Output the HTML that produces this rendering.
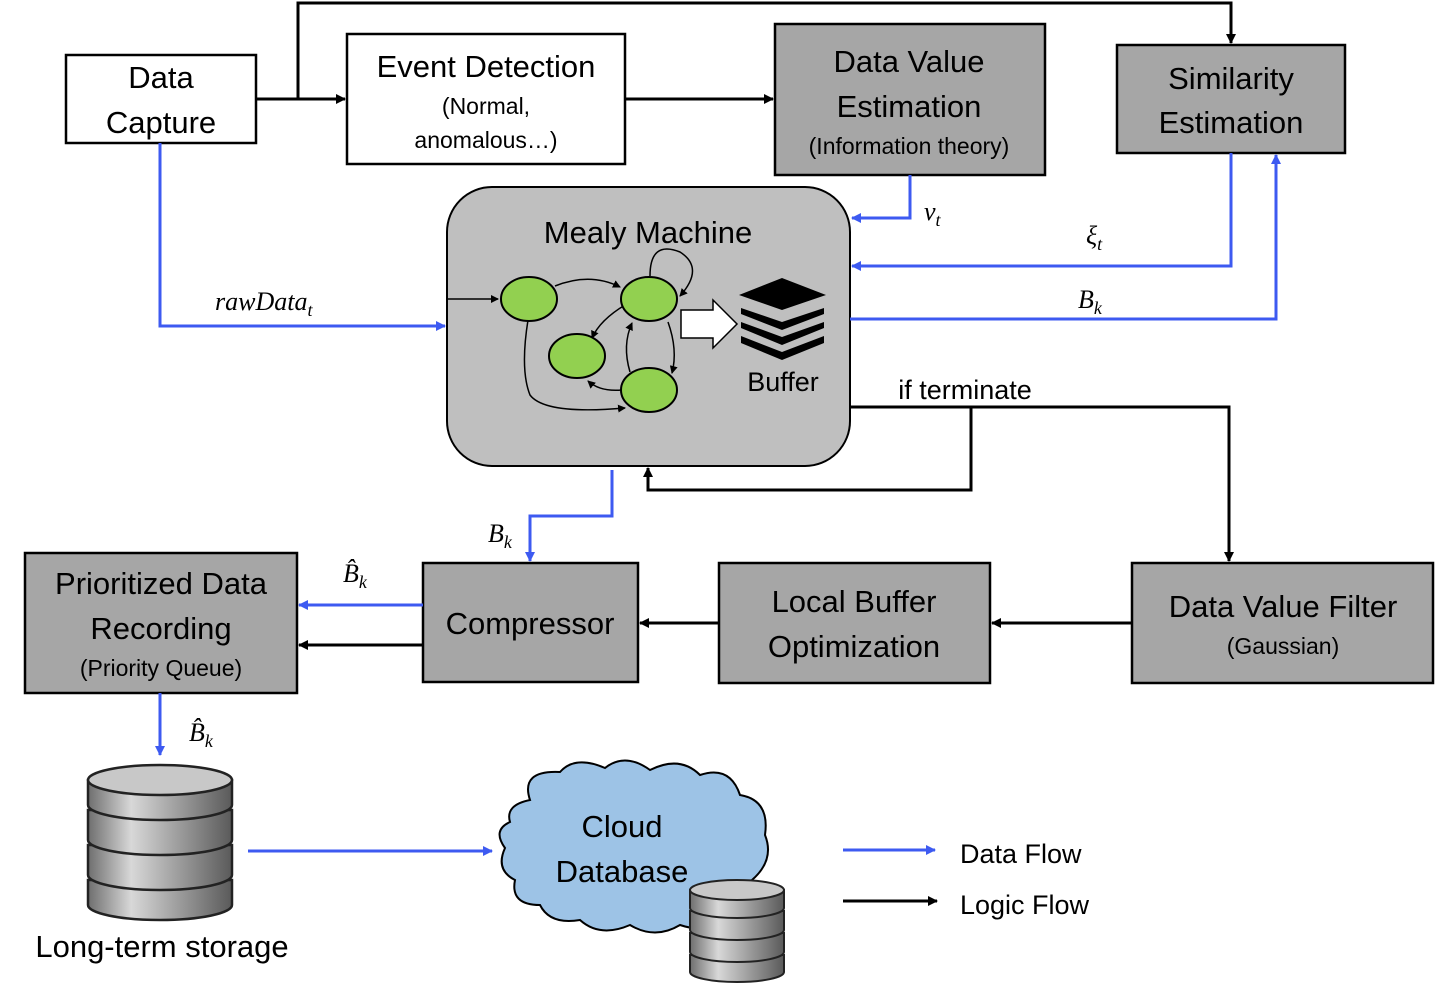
<!DOCTYPE html>
<html><head><meta charset="utf-8"><style>
html,body{margin:0;padding:0;background:#fff;}
svg{display:block;}
text{font-family:"Liberation Sans",sans-serif;}
</style></head><body>
<svg width="1435" height="999" viewBox="0 0 1435 999" xmlns="http://www.w3.org/2000/svg">
<defs>
<marker id="ak" markerWidth="10" markerHeight="10" refX="9" refY="5" orient="auto" markerUnits="userSpaceOnUse"><path d="M0,0 L10,5 L0,10 z" fill="#000"/></marker>
<marker id="ab" markerWidth="10" markerHeight="10" refX="9" refY="5" orient="auto" markerUnits="userSpaceOnUse"><path d="M0,0 L10,5 L0,10 z" fill="#3d5af1"/></marker>
<marker id="as" markerWidth="8" markerHeight="8" refX="7" refY="4" orient="auto" markerUnits="userSpaceOnUse"><path d="M0,0 L8,4 L0,8 z" fill="#000"/></marker>
<linearGradient id="cyl" x1="0" x2="1"><stop offset="0" stop-color="#6e6e6e"/><stop offset="0.3" stop-color="#d8d8d8"/><stop offset="1" stop-color="#5a5a5a"/></linearGradient>
</defs>
<g stroke="#000" stroke-width="2.5">
<rect x="66" y="55" width="190" height="88" fill="#fff"/>
<rect x="347" y="34" width="278" height="130" fill="#fff"/>
<rect x="775" y="24" width="270" height="151" fill="#a6a6a6"/>
<rect x="1117" y="45" width="228" height="108" fill="#a6a6a6"/>
<rect x="447" y="187" width="403" height="279" rx="45" fill="#bfbfbf" stroke-width="2"/>
<rect x="25" y="553" width="272" height="140" fill="#a6a6a6"/>
<rect x="423" y="563" width="215" height="119" fill="#a6a6a6"/>
<rect x="719" y="563" width="271" height="120" fill="#a6a6a6"/>
<rect x="1132" y="563" width="301" height="120" fill="#a6a6a6"/>
</g>
<g font-size="31" text-anchor="middle" fill="#000">
<text x="161" y="88">Data</text><text x="161" y="133">Capture</text>
<text x="486" y="77">Event Detection</text>
<text x="486" y="114" font-size="23">(Normal,</text><text x="486" y="148" font-size="23">anomalous…)</text>
<text x="909" y="72">Data Value</text><text x="909" y="117">Estimation</text>
<text x="909" y="154" font-size="23">(Information theory)</text>
<text x="1231" y="89">Similarity</text><text x="1231" y="133">Estimation</text>
<text x="648" y="243">Mealy Machine</text>
<text x="783" y="391" font-size="27">Buffer</text>
<text x="161" y="594">Prioritized Data</text><text x="161" y="639">Recording</text>
<text x="161" y="676" font-size="23">(Priority Queue)</text>
<text x="530" y="634">Compressor</text>
<text x="854" y="612">Local Buffer</text><text x="854" y="657">Optimization</text>
<text x="1283" y="617">Data Value Filter</text>
<text x="1283" y="654" font-size="23">(Gaussian)</text>
<text x="965" y="399" font-size="27">if terminate</text>
<text x="162" y="957" font-size="31">Long-term storage</text>
<text x="960" y="863" font-size="27" text-anchor="start">Data Flow</text>
<text x="960" y="914" font-size="27" text-anchor="start">Logic Flow</text>
</g>
<g stroke="#000" stroke-width="3" fill="none">
<path d="M256 99 H345" marker-end="url(#ak)"/>
<path d="M298 99 V3 H1231 V43" marker-end="url(#ak)"/>
<path d="M625 99 H773" marker-end="url(#ak)"/>
<path d="M850 407 H1229 V561" marker-end="url(#ak)"/>
<path d="M971 407 V490 H648 V468" marker-end="url(#ak)"/>
<path d="M719 623 H640" marker-end="url(#ak)"/>
<path d="M1132 623 H992" marker-end="url(#ak)"/>
<path d="M423 645 H299" marker-end="url(#ak)"/>
<path d="M843 901 H937" marker-end="url(#ak)"/>
</g>
<g stroke="#3d5af1" stroke-width="3" fill="none">
<path d="M160 143 V326 H445" marker-end="url(#ab)"/>
<path d="M910 175 V218 H852" marker-end="url(#ab)"/>
<path d="M1231 153 V266 H852" marker-end="url(#ab)"/>
<path d="M850 319 H1276 V155" marker-end="url(#ab)"/>
<path d="M612 470 V516 H530 V561" marker-end="url(#ab)"/>
<path d="M423 605 H299" marker-end="url(#ab)"/>
<path d="M160 693 V755" marker-end="url(#ab)"/>
<path d="M248 851 H492" marker-end="url(#ab)"/>
<path d="M843 850 H935" marker-end="url(#ab)"/>
</g>
<g font-family="Liberation Serif, serif" font-style="italic" font-size="26" fill="#000">
<text x="924" y="220" style="font-family:'Liberation Serif',serif">v<tspan font-size="18" dy="6">t</tspan></text>
<text x="1086" y="244" style="font-family:'Liberation Serif',serif">ξ<tspan font-size="18" dy="6">t</tspan></text>
<text x="1078" y="308" style="font-family:'Liberation Serif',serif">B<tspan font-size="18" dy="6">k</tspan></text>
<text x="215" y="310" style="font-family:'Liberation Serif',serif">rawData<tspan font-size="18" dy="6">t</tspan></text>
<text x="488" y="542" style="font-family:'Liberation Serif',serif">B<tspan font-size="18" dy="6">k</tspan></text>
<text x="343" y="582" style="font-family:'Liberation Serif',serif">B̂<tspan font-size="18" dy="6">k</tspan></text>
<text x="189" y="741" style="font-family:'Liberation Serif',serif">B̂<tspan font-size="18" dy="6">k</tspan></text>
</g>
<g stroke="#000" stroke-width="1.5" fill="none">
<path d="M447 299 H498" marker-end="url(#as)"/>
<path d="M555 286 Q590 272 620 287" marker-end="url(#as)"/>
<path d="M528 320 Q520 370 530 395 Q545 415 625 408" marker-end="url(#as)"/>
<path d="M650 276 Q650 240 680 252 Q705 268 680 296" marker-end="url(#as)"/>
<path d="M625 305 Q600 320 592 338" marker-end="url(#as)"/>
<path d="M668 322 Q678 350 672 373" marker-end="url(#as)"/>
<path d="M630 372 Q622 345 632 323" marker-end="url(#as)"/>
<path d="M622 390 Q600 392 588 381" marker-end="url(#as)"/>
</g>
<g fill="#92d050" stroke="#000" stroke-width="2">
<ellipse cx="529" cy="299" rx="28" ry="22"/>
<ellipse cx="649" cy="299" rx="28" ry="22"/>
<ellipse cx="577" cy="356" rx="28" ry="22"/>
<ellipse cx="649" cy="390" rx="28" ry="22"/>
</g>
<path d="M681 310 H713 V300 L737 324 L713 348 V338 H681 Z" fill="#fff" stroke="#000" stroke-width="1.5"/>
<g fill="#000">
<path d="M739 295 L782 278 L826 295 L782 310 Z"/>
<path d="M741 308 L782 322 L824 308 L824 314 L782 330 L741 314 Z"/>
<path d="M741 322 L782 337 L824 322 L824 328 L782 345 L741 328 Z"/>
<path d="M741 336 L782 352 L824 336 L824 343 L782 360 L741 343 Z"/>
</g>
<g stroke="#222" stroke-width="2.5" fill="url(#cyl)">
<path d="M88 880 V905 A72 15 0 0 0 232 905 V880 Z"/>
<path d="M88 845 V875 A72 15 0 0 0 232 875 V845 Z"/>
<path d="M88 810 V840 A72 15 0 0 0 232 840 V810 Z"/>
<path d="M88 780 V805 A72 15 0 0 0 232 805 V780 Z"/>
<ellipse cx="160" cy="780" rx="72" ry="15" fill="#c8c8c8"/>
</g>
<path d="M530 800 Q520 770 560 772 Q575 755 605 768 Q625 752 650 770 Q680 755 700 775 Q730 765 740 795 Q770 800 765 835 Q775 860 752 880 Q755 910 725 912 Q710 935 680 925 Q655 940 630 925 Q600 938 580 920 Q550 925 540 905 Q510 905 515 880 Q495 870 505 848 Q492 830 510 822 Q505 805 530 800 Z" fill="#9dc3e6" stroke="#000" stroke-width="2"/>
<text x="622" y="837" font-size="31" text-anchor="middle">Cloud</text>
<text x="622" y="882" font-size="31" text-anchor="middle">Database</text>
<g stroke="#222" stroke-width="2" fill="url(#cyl)">
<path d="M690 955 V972 A47 10 0 0 0 784 972 V955 Z"/>
<path d="M690 933 V952 A47 10 0 0 0 784 952 V933 Z"/>
<path d="M690 911 V930 A47 10 0 0 0 784 930 V911 Z"/>
<path d="M690 890 V908 A47 10 0 0 0 784 908 V890 Z"/>
<ellipse cx="737" cy="890" rx="47" ry="10" fill="#c8c8c8"/>
</g>
</svg>
</body></html>
